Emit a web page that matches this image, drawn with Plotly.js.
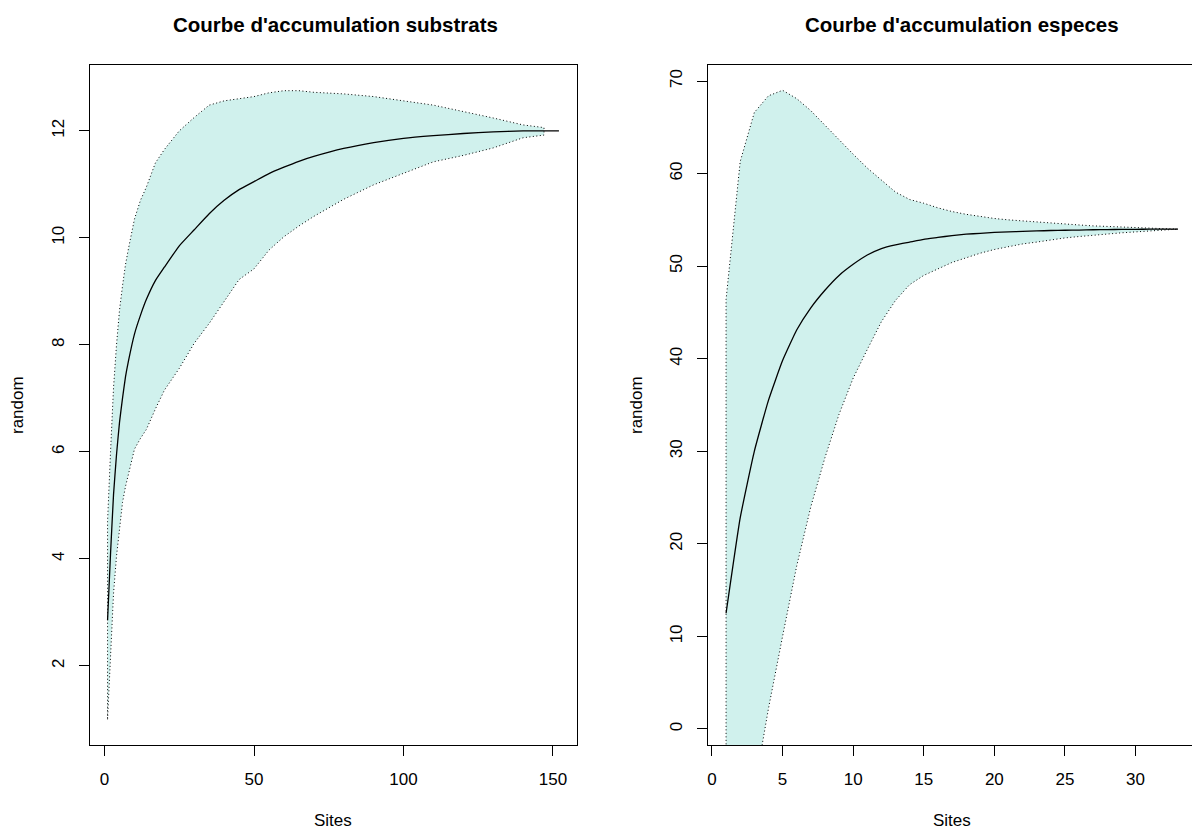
<!DOCTYPE html>
<html>
<head>
<meta charset="utf-8">
<script src="https://cdn.plot.ly/plotly-3.0.1.min.js"></script>
<style>
html,body{margin:0;padding:0;background:#fff;overflow:hidden;}
#chart{width:1200px;height:829px;}
</style>
</head>
<body>
<div id="chart"></div>
<script>
// ---- Left panel: substrats ----
const subSites    = [1,2,3,4,5,6,7,8,10,12,14,17,20,25,30,35,40,45,50,55,60,65,70,80,90,100,110,120,130,140,147,152];
const subRichness = [2.85,4.1,5.2,5.95,6.55,7.0,7.4,7.7,8.2,8.55,8.85,9.2,9.45,9.85,10.15,10.45,10.7,10.9,11.05,11.2,11.32,11.43,11.52,11.67,11.78,11.86,11.91,11.95,11.98,12.0,12.0,12.0];
const subUpper    = [4.7,6.0,7.2,8.0,8.65,9.1,9.5,9.8,10.35,10.7,10.95,11.4,11.65,12.0,12.25,12.48,12.56,12.6,12.64,12.71,12.75,12.75,12.72,12.69,12.64,12.56,12.48,12.36,12.24,12.11,12.06];
const subLower    = [1.0,2.25,3.35,4.05,4.6,5.05,5.35,5.6,6.05,6.25,6.42,6.8,7.15,7.56,8.03,8.4,8.82,9.22,9.42,9.77,10.02,10.22,10.4,10.72,10.99,11.21,11.42,11.54,11.68,11.87,11.92];

// ---- Right panel: especes ----
const espSites    = [1,2,3,4,5,6,7,8,9,10,11,12,13,14,15,16,17,18,19,20,21,22,23,24,25,26,27,28,29,30,31,32,33];
const espRichness = [12.5,22.8,30.0,35.5,39.8,43.1,45.5,47.4,49.0,50.2,51.2,51.9,52.3,52.6,52.9,53.1,53.3,53.45,53.55,53.65,53.7,53.75,53.8,53.85,53.88,53.9,53.93,53.95,53.97,53.98,53.99,54.0,54.0];
const espUpper    = [46.4,61.3,66.6,68.4,69.0,68.1,66.8,65.3,63.7,62.1,60.6,59.3,58.0,57.2,56.8,56.3,55.9,55.6,55.35,55.15,55.0,54.9,54.8,54.7,54.55,54.45,54.35,54.3,54.22,54.15,54.1,54.05,54.0];
const espLower    = [-21.4,-15.7,-6.6,2.2,10.0,17.6,24.0,29.3,34.0,37.9,41.0,44.0,46.3,48.0,49.0,49.7,50.4,50.9,51.4,51.8,52.1,52.4,52.6,52.85,53.05,53.2,53.35,53.45,53.6,53.7,53.8,53.9,54.0];

// tick values
const subXTicks = [0,50,100,150];
const subYTicks = [2,4,6,8,10,12];
const espXTicks = [0,5,10,15,20,25,30];
const espYTicks = [0,10,20,30,40,50,60,70];

const W = 1200, H = 829;
const FONT = 'Liberation Sans, Arial, Helvetica, sans-serif';
const fillCol = '#d0f1ed';

function polygon(sites, upper, lower, xa, ya) {
  const n = upper.length;
  const xs = sites.slice(0, n);
  const px = xs.concat(xs.slice().reverse()).concat([xs[0]]);
  const py = lower.concat(upper.slice().reverse()).concat([lower[0]]);
  return {x: px, y: py, xaxis: xa, yaxis: ya, type: 'scatter', mode: 'lines',
          fill: 'toself', fillcolor: fillCol,
          line: {color: '#000', width: 1, dash: '1px,2.5px'}, hoverinfo: 'skip', showlegend: false};
}
function line(sites, rich, xa, ya) {
  return {x: sites, y: rich, xaxis: xa, yaxis: ya, type: 'scatter', mode: 'lines',
          line: {color: '#000', width: 1.3, shape: 'spline', smoothing: 0.4}, showlegend: false};
}

const traces = [
  polygon(subSites, subUpper, subLower, 'x', 'y'),
  line(subSites, subRichness, 'x', 'y'),
  polygon(espSites, espUpper, espLower, 'x2', 'y2'),
  line(espSites, espRichness, 'x2', 'y2')
];

const yTop = 1 - 65/H, yBot = 1 - 745/H;
function xax(domain, range, ticks) {
  return {domain: domain, range: range, tickmode: 'array', tickvals: ticks,
          ticks: 'outside', ticklen: 10, tickwidth: 1, tickcolor: '#000',
          showline: true, mirror: true, linecolor: '#000', linewidth: 1,
          showgrid: false, zeroline: false, ticklabelstandoff: 9,
          tickfont: {family: FONT, size: 17, color: '#000'}, fixedrange: true};
}
function yax(domain, range, ticks, anchor) {
  return {domain: domain, range: range, tickmode: 'array', tickvals: ticks, anchor: anchor,
          ticks: 'outside', ticklen: 10, tickwidth: 1, tickcolor: '#000',
          showline: true, mirror: true, linecolor: '#000', linewidth: 1,
          showgrid: false, zeroline: false, tickangle: -90, ticklabelstandoff: 8,
          tickfont: {family: FONT, size: 17, color: '#000'}, fixedrange: true};
}

const lx0 = 89.5/W, lx1 = 577/W, rx0 = 708/W, rx1 = 1196/W;

const layout = {
  width: W, height: H, margin: {l: 0, r: 0, t: 0, b: 0},
  paper_bgcolor: '#fff', plot_bgcolor: '#fff', showlegend: false,
  xaxis:  Object.assign(xax([lx0, lx1], [-5.04, 158.04], subXTicks), {anchor: 'y'}),
  yaxis:  Object.assign(yax([yBot, yTop], [0.52, 13.23], subYTicks, 'x')),
  xaxis2: Object.assign(xax([rx0, rx1], [-0.28, 34.28], espXTicks), {anchor: 'y2'}),
  yaxis2: Object.assign(yax([yBot, yTop], [-1.73, 71.73], espYTicks, 'x2')),
  annotations: [
    {text: "<b>Courbe d'accumulation substrats</b>", x: 335/W, y: 1 - 25/H, xref: 'paper', yref: 'paper',
     showarrow: false, xanchor: 'center', yanchor: 'middle', font: {family: FONT, size: 20.5, color: '#000'}},
    {text: "<b>Courbe d'accumulation especes</b>", x: 962/W, y: 1 - 25/H, xref: 'paper', yref: 'paper',
     showarrow: false, xanchor: 'center', yanchor: 'middle', font: {family: FONT, size: 20.5, color: '#000'}},
    {text: 'Sites', x: 333/W, y: 1 - 820/H, xref: 'paper', yref: 'paper', showarrow: false,
     xanchor: 'center', yanchor: 'middle', font: {family: FONT, size: 17, color: '#000'}},
    {text: 'Sites', x: 952/W, y: 1 - 820/H, xref: 'paper', yref: 'paper', showarrow: false,
     xanchor: 'center', yanchor: 'middle', font: {family: FONT, size: 17, color: '#000'}},
    {text: 'random', x: 17/W, y: 1 - 405/H, xref: 'paper', yref: 'paper', showarrow: false, textangle: -90,
     xanchor: 'center', yanchor: 'middle', font: {family: FONT, size: 17, color: '#000'}},
    {text: 'random', x: 636/W, y: 1 - 405/H, xref: 'paper', yref: 'paper', showarrow: false, textangle: -90,
     xanchor: 'center', yanchor: 'middle', font: {family: FONT, size: 17, color: '#000'}}
  ]
};

Plotly.newPlot('chart', traces, layout, {displayModeBar: false, staticPlot: true});
</script>
</body>
</html>
